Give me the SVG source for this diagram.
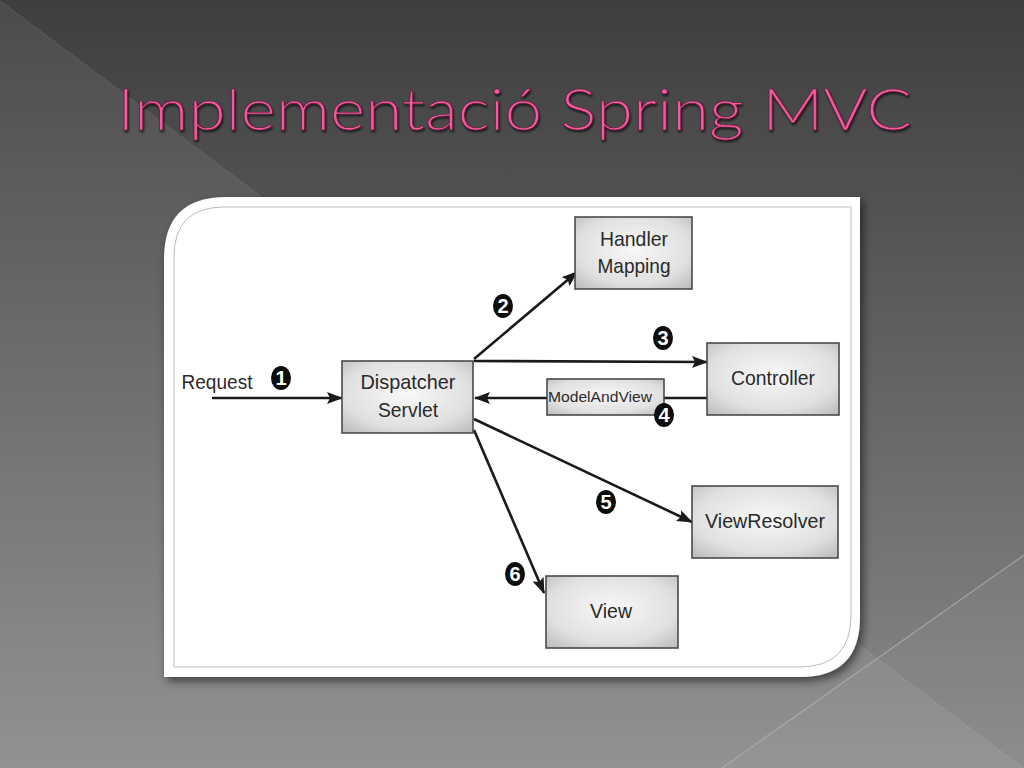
<svg xmlns="http://www.w3.org/2000/svg" width="1024" height="768" viewBox="0 0 1024 768">
  <defs>
    <linearGradient id="bg" x1="0" y1="0" x2="0" y2="1">
      <stop offset="0" stop-color="#3e3e3e"/>
      <stop offset="1" stop-color="#8a8a8a"/>
    </linearGradient>
    <radialGradient id="nodeFill" cx="0.5" cy="0.45" r="0.8">
      <stop offset="0" stop-color="#f8f8f8"/>
      <stop offset="0.6" stop-color="#e0e0e0"/>
      <stop offset="1" stop-color="#b0b0b0"/>
    </radialGradient>
    <filter id="cardShadow" x="-10%" y="-10%" width="125%" height="125%">
      <feDropShadow dx="3" dy="4" stdDeviation="5" flood-color="#000" flood-opacity="0.55"/>
    </filter>
    <filter id="titleShadow" x="-5%" y="-20%" width="110%" height="150%">
      <feDropShadow dx="1" dy="2" stdDeviation="1.2" flood-color="#000" flood-opacity="0.7"/>
    </filter>
    <marker id="arrow" viewBox="0 0 16 12" refX="15" refY="6" markerWidth="16" markerHeight="12" markerUnits="userSpaceOnUse" orient="auto">
      <path d="M0,0 L16,6 L0,12 L3,6 Z" fill="#1a1a1a"/>
    </marker>
    <style>
      .node rect { fill: url(#nodeFill); stroke: #4a4a4a; stroke-width: 1.6; }
      .lbl { font-family: "Liberation Sans", Arial, sans-serif; font-size: 21px; fill: #2a2a2a; text-anchor: middle; }
      .conn { stroke: #1a1a1a; stroke-width: 2.6; fill: none; marker-end: url(#arrow); }
      .num ellipse { fill: #0d0d0d; }
      .num text { font-family: "Liberation Sans", Arial, sans-serif; font-weight: bold; font-size: 20px; fill: #ffffff; text-anchor: middle; }
    </style>
  </defs>

  <!-- background -->
  <rect x="0" y="0" width="1024" height="768" fill="url(#bg)"/>
  <polygon points="0,0 1024,768 0,768" fill="#ffffff" fill-opacity="0.07"/>
  <polygon points="722,768 1024,555 1024,768" fill="#ffffff" fill-opacity="0.03"/>
  <line x1="0" y1="1" x2="1024" y2="769" stroke="#ffffff" stroke-opacity="0.06" stroke-width="1"/>
  <line x1="722" y1="768" x2="1024" y2="555" stroke="#bdbdbd" stroke-opacity="0.6" stroke-width="1.2"/>

  <!-- title -->
  <text x="117" y="130" font-family="Lato, 'Noto Sans', sans-serif" font-weight="300" font-size="58" fill="#f75a9c" stroke="#5a1838" stroke-width="0.6" textLength="795" lengthAdjust="spacingAndGlyphs" filter="url(#titleShadow)">Implementació Spring MVC</text>

  <!-- card -->
  <path id="card" d="M226,197 L860,197 L860,617 Q860,677 800,677 L164,677 L164,259 Q164,197 226,197 Z" fill="#ffffff" filter="url(#cardShadow)"/>
  <path d="M224,207 L851,207 L851,615 Q851,667 799,667 L174,667 L174,257 Q174,207 224,207 Z" fill="none" stroke="#bcbcbc" stroke-width="1"/>

  <!-- connectors -->
  <g id="connectors">
    <line class="conn" x1="212" y1="398" x2="342" y2="398" stroke-width="3.2"/>
    <line class="conn" x1="474" y1="359" x2="577" y2="272"/>
    <line class="conn" x1="474" y1="361" x2="707" y2="362"/>
    <line class="conn" x1="707" y1="398" x2="475" y2="398"/>
    <line class="conn" x1="474" y1="419" x2="692" y2="522"/>
    <line class="conn" x1="474" y1="430" x2="544" y2="593"/>
  </g>

  <!-- nodes -->
  <g id="request">
    <text class="lbl" x="217" y="389" textLength="71" lengthAdjust="spacingAndGlyphs">Request</text>
  </g>
  <g id="dispatcher-servlet" class="node">
    <rect x="342" y="361" width="131" height="72"/>
    <text class="lbl" x="408" y="389" textLength="95" lengthAdjust="spacingAndGlyphs">Dispatcher</text>
    <text class="lbl" x="408" y="417" textLength="60" lengthAdjust="spacingAndGlyphs">Servlet</text>
  </g>
  <g id="handler-mapping" class="node">
    <rect x="575" y="217" width="117" height="72"/>
    <text class="lbl" x="634" y="246" textLength="68" lengthAdjust="spacingAndGlyphs">Handler</text>
    <text class="lbl" x="634" y="273" textLength="73" lengthAdjust="spacingAndGlyphs">Mapping</text>
  </g>
  <g id="controller" class="node">
    <rect x="707" y="343" width="132" height="72"/>
    <text class="lbl" x="773" y="385" textLength="84" lengthAdjust="spacingAndGlyphs">Controller</text>
  </g>
  <g id="model-and-view" class="node">
    <rect x="547" y="379" width="117" height="36"/>
    <text class="lbl" x="600" y="402" style="font-size:15px" textLength="104" lengthAdjust="spacingAndGlyphs">ModelAndView</text>
  </g>
  <g id="view-resolver" class="node">
    <rect x="692" y="486" width="146" height="72"/>
    <text class="lbl" x="765" y="528" textLength="120" lengthAdjust="spacingAndGlyphs">ViewResolver</text>
  </g>
  <g id="view" class="node">
    <rect x="546" y="576" width="132" height="72"/>
    <text class="lbl" x="611" y="618" textLength="42" lengthAdjust="spacingAndGlyphs">View</text>
  </g>

  <!-- step numbers -->
  <g id="step-numbers" class="num">
    <ellipse cx="281" cy="378" rx="10" ry="12"/><text x="281" y="385">1</text>
    <ellipse cx="503" cy="306" rx="10" ry="12"/><text x="503" y="313">2</text>
    <ellipse cx="663" cy="338" rx="10" ry="12"/><text x="663" y="345">3</text>
    <ellipse cx="664" cy="415" rx="10" ry="12"/><text x="664" y="422">4</text>
    <ellipse cx="606" cy="502" rx="10" ry="12"/><text x="606" y="509">5</text>
    <ellipse cx="515" cy="574" rx="10" ry="12"/><text x="515" y="581">6</text>
  </g>
</svg>
